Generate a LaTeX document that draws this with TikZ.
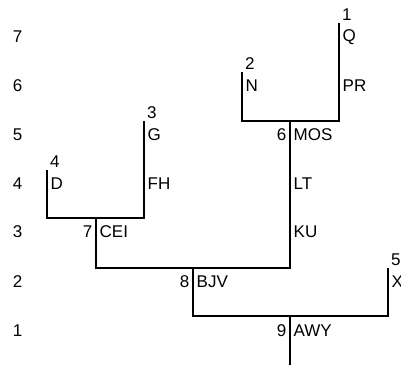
\documentclass[tikz,border=0pt]{standalone}
\usepackage{fontspec}
\setmainfont{Liberation Sans}
\begin{document}
\begin{tikzpicture}[x=1pt,y=-1pt,
  every node/.style={font=\fontsize{17pt}{20pt}\selectfont, inner sep=0pt},
  branch/.style={line width=2pt, line join=miter},
  rowlab/.style={anchor=center},
  rtext/.style={anchor=west, inner sep=3.5pt},
  ltext/.style={anchor=east, inner sep=3.5pt},
  leafnum/.style={anchor=south west, inner sep=3pt, yshift=-1pt}]
\useasboundingbox (0,0) rectangle (401,365);
% row labels
\foreach \r/\yy in {7/37,6/86,5/135,4/184,3/232,2/282,1/331}
  \node[rowlab] (row\r) at (17.5,\yy) {\r};
% tree points
\coordinate (Q) at (339,23);
\coordinate (N) at (242,72);
\coordinate (G) at (144,121);
\coordinate (D) at (47,170);
\coordinate (X) at (388,268);
\coordinate (MOS) at (290,121);
\coordinate (CEI) at (96,218);
\coordinate (BJV) at (193,268);
\coordinate (AWY) at (290,316);
\coordinate (root) at (290,365);
% branches
\draw[branch] (D) |- (CEI);
\draw[branch] (G) |- (CEI);
\draw[branch] (N) |- (MOS);
\draw[branch] (Q) |- (MOS);
\draw[branch] (CEI) |- (BJV);
\draw[branch] (MOS) |- (BJV);
\draw[branch] (BJV) |- (AWY);
\draw[branch] (X) |- (AWY);
\draw[branch] (AWY) -- (root);
% leaf numbers
\node[leafnum] (n1) at (Q) {1};
\node[leafnum] (n2) at (N) {2};
\node[leafnum] (n3) at (G) {3};
\node[leafnum] (n4) at (D) {4};
\node[leafnum] (n5) at (X) {5};
% texts right of lines
\node[rtext] (tQ) at (339,37) {Q};
\node[rtext] (tPR) at (339,86) {PR};
\node[rtext] (tN) at (242,86) {N};
\node[rtext] (tG) at (144,135) {G};
\node[rtext] (tFH) at (144,184) {FH};
\node[rtext] (tD) at (47,184) {D};
\node[rtext] (tMOS) at (290,135) {MOS};
\node[rtext] (tLT) at (290,184) {LT};
\node[rtext] (tKU) at (290,232) {KU};
\node[rtext] (tCEI) at (96,232) {CEI};
\node[rtext] (tBJV) at (193,282) {BJV};
\node[rtext] (tAWY) at (290,331) {AWY};
\node[rtext] (tX) at (388,282) {X};
% cluster numbers
\node[ltext] (c6) at (290,135) {6};
\node[ltext] (c7) at (96,232) {7};
\node[ltext] (c8) at (193,282) {8};
\node[ltext] (c9) at (290,331) {9};
\end{tikzpicture}
\end{document}
